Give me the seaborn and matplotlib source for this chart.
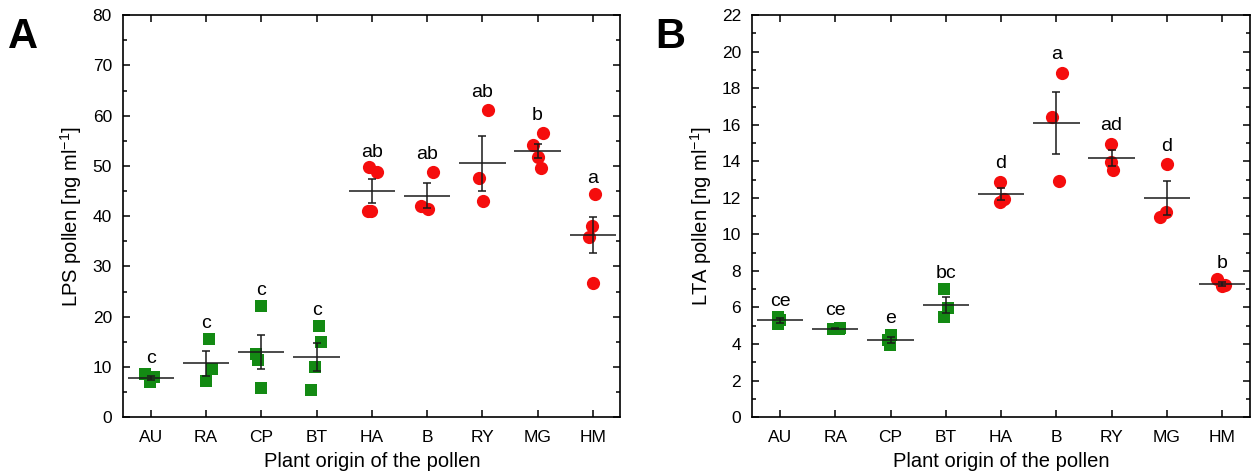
import numpy as np
import pandas as pd
import matplotlib
matplotlib.use("Agg")
import matplotlib.pyplot as plt
from matplotlib.ticker import MultipleLocator
import seaborn as sns

# plant origins, first four green squares, rest red circles
origins = ['AU', 'RA', 'CP', 'BT', 'HA', 'B', 'RY', 'MG', 'HM']
green_group = ['AU', 'RA', 'CP', 'BT']

lps_values = [
    [8.5, 8.0, 7.0],
    [15.5, 9.5, 7.2],
    [22.2, 12.6, 11.3, 5.8],
    [18.1, 15.0, 10.0, 5.4],
    [49.8, 48.8, 41.0, 41.1],
    [48.8, 42.1, 41.5],
    [61.2, 47.5, 43.0],
    [56.6, 54.1, 51.8, 49.6],
    [44.5, 38.1, 35.9, 26.7],
]
lps_mean = [7.8, 10.7, 13.0, 12.0, 45.0, 44.1, 50.5, 53.0, 36.2]
lps_sem = [0.4, 2.5, 3.4, 2.8, 2.4, 2.4, 5.5, 1.4, 3.6]
lps_letters = ['c', 'c', 'c', 'c', 'ab', 'ab', 'ab', 'b', 'a']
lps_letter_y = [11.7, 18.6, 25.3, 21.2, 52.7, 52.3, 64.6, 60.1, 47.5]

# panel B: LTA (ng/ml)
lta_values = [
    [5.5, 5.3, 5.1],
    [4.9, 4.85, 4.8],
    [4.5, 4.2, 3.95],
    [7.0, 5.97, 5.5],
    [12.86, 11.95, 11.75],
    [18.86, 16.42, 12.95],
    [14.96, 13.99, 13.54],
    [13.85, 11.25, 10.95],
    [7.57, 7.22, 7.2],
]
lta_mean = [5.29, 4.85, 4.23, 6.15, 12.2, 16.1, 14.17, 11.99, 7.3]
lta_sem = [0.13, 0.03, 0.16, 0.44, 0.33, 1.72, 0.43, 0.93, 0.1]
lta_letters = ['ce', 'ce', 'e', 'bc', 'd', 'a', 'ad', 'd', 'b']
lta_letter_y = [6.33, 5.83, 5.42, 7.84, 13.9, 19.83, 15.95, 14.81, 8.43]

GREEN = '#138a13'
RED = '#f50d0d'

sns.set_style('ticks')
plt.rcParams['font.family'] = ['Liberation Sans', 'DejaVu Sans']
plt.rcParams['mathtext.fontset'] = 'custom'
plt.rcParams['mathtext.rm'] = 'Liberation Sans'
plt.rcParams['mathtext.it'] = 'Liberation Sans'
plt.rcParams['text.color'] = 'black'
plt.rcParams['axes.labelcolor'] = 'black'
plt.rcParams['axes.edgecolor'] = 'black'
plt.rcParams['xtick.color'] = 'black'
plt.rcParams['ytick.color'] = 'black'

np.random.seed(7)  # only for the horizontal jitter of the dots


def to_long(values):
    rows = []
    for name, vals in zip(origins, values):
        for v in vals:
            rows.append({'origin': name, 'value': v})
    return pd.DataFrame(rows)


def draw_panel(ax, values, means, sems, letters, letter_y, ylabel, ymax, ystep):
    df = to_long(values)
    green = df[df['origin'].isin(green_group)]
    red = df[~df['origin'].isin(green_group)]
    sns.stripplot(data=green, x='origin', y='value', order=origins, ax=ax,
                  color=GREEN, marker='s', size=8.5, linewidth=0, jitter=0.12, zorder=2)
    sns.stripplot(data=red, x='origin', y='value', order=origins, ax=ax,
                  color=RED, marker='o', size=9.5, linewidth=0, jitter=0.12, zorder=2)

    xs = np.arange(len(origins))
    ax.hlines(means, xs - 0.42, xs + 0.42, color='#1a1a1a', lw=1.1, zorder=3)
    ax.errorbar(xs, means, yerr=sems, fmt='none', ecolor='#1a1a1a',
                elinewidth=1.1, capsize=3, capthick=1.1, zorder=3)
    for x, y, t in zip(xs, letter_y, letters):
        ax.text(x, y, t, ha='center', va='center', fontsize=14)

    ax.set_xlim(-0.5, len(origins) - 0.5)
    ax.set_ylim(0, ymax)
    ax.yaxis.set_major_locator(MultipleLocator(ystep))
    ax.yaxis.set_minor_locator(MultipleLocator(ystep / 2))
    ax.tick_params(axis='both', which='both', direction='in', top=True, right=True,
                   labelsize=12.5, width=1.1)
    ax.tick_params(axis='both', which='major', length=5)
    ax.tick_params(axis='y', which='minor', length=3)
    ax.tick_params(axis='x', which='major', pad=9)
    ax.tick_params(axis='y', which='major', pad=8)
    for s in ax.spines.values():
        s.set_linewidth(1.2)
        s.set_visible(True)
    ax.set_xlabel('Plant origin of the pollen', fontsize=14.5, labelpad=5)
    ax.set_ylabel(ylabel, fontsize=14.5, labelpad=6)
    return ax


fig = plt.figure(figsize=(12.56, 4.74), dpi=100)
ax_a = fig.add_axes([0.098, 0.12, 0.396, 0.848])
ax_b = fig.add_axes([0.599, 0.12, 0.396, 0.848])

draw_panel(ax_a, lps_values, lps_mean, lps_sem, lps_letters, lps_letter_y,
           'LPS pollen [ng ml$^{-1}$]', 80, 10)
draw_panel(ax_b, lta_values, lta_mean, lta_sem, lta_letters, lta_letter_y,
           'LTA pollen [ng ml$^{-1}$]', 22, 2)

fig.text(0.006, 0.965, 'A', fontsize=30, fontweight='bold', va='top')
fig.text(0.522, 0.965, 'B', fontsize=30, fontweight='bold', va='top')

fig.savefig('out.png', dpi=100)
